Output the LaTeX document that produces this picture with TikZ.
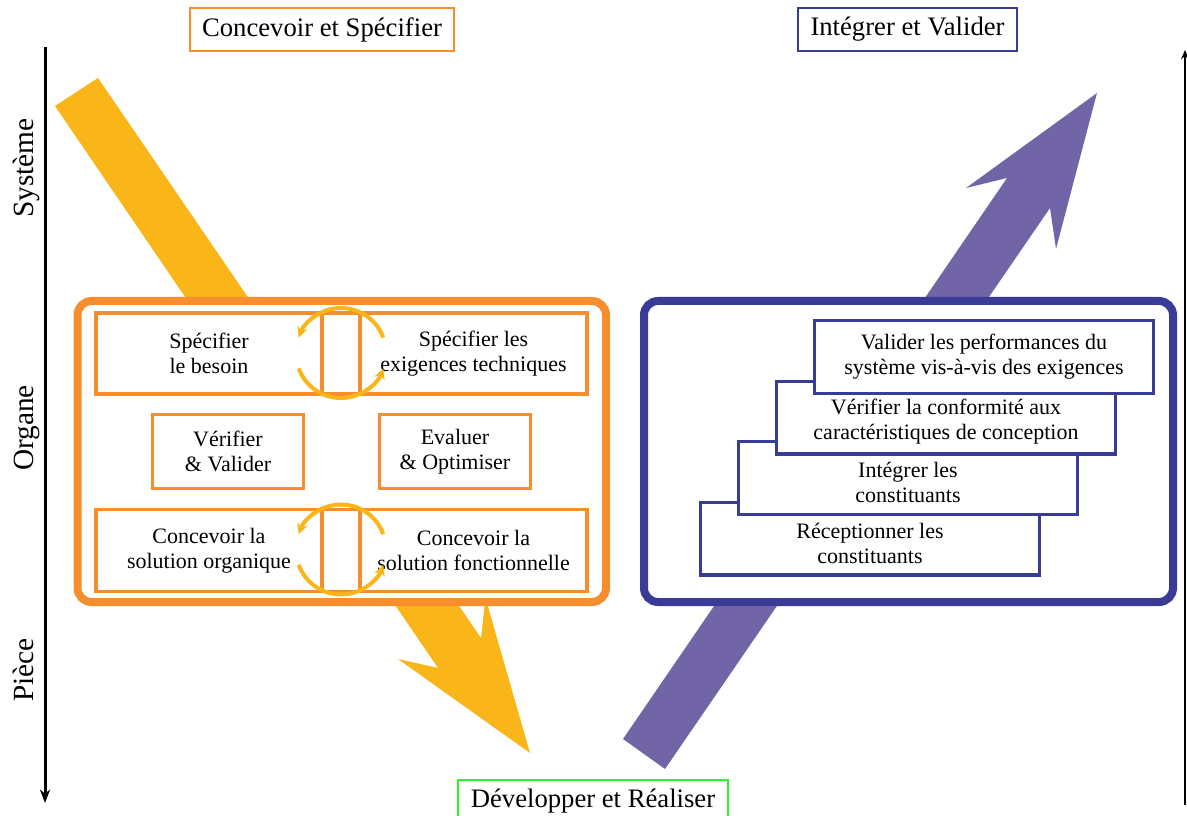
\documentclass[tikz,border=0pt]{standalone}
\usepackage{fontspec}
\setmainfont{Liberation Serif}
\usetikzlibrary{arrows.meta}
\definecolor{corange}{RGB}{247,142,46}
\definecolor{cyellow}{RGB}{250,181,24}
\definecolor{cpurple}{RGB}{114,101,167}
\definecolor{cblue}{RGB}{56,60,150}
\definecolor{cgreen}{RGB}{50,240,50}
\begin{document}
\begin{tikzpicture}[x=0.75pt,y=-0.75pt,
  titlebox/.style={draw, line width=1.5pt, minimum height=32.25pt, inner sep=0pt, outer sep=0pt, font=\fontsize{20}{24}\selectfont},
  axislabel/.style={rotate=90, anchor=base, font=\fontsize{22}{26}\selectfont},
  obox/.style={draw=corange, line width=2.6pt, fill=white, inner sep=0pt, outer sep=0pt, align=center, font=\fontsize{16.5}{18.5}\selectfont},
  bluebox/.style={draw=cblue, line width=2.6pt, fill=white, inner sep=0pt, outer sep=0pt, minimum width=253.9pt, minimum height=54.4pt},
  btext/.style={align=center, inner sep=0pt, font=\fontsize{16.5}{18.75}\selectfont},
  cyc/.style={draw=cyellow, line width=3pt, -{Stealth[length=8pt,width=8pt,inset=2.5pt]}},
  bigframe/.style={line width=6pt, rounded corners=10.5pt, fill=white}
]
\useasboundingbox (0,0) rectangle (1187,816);

% big arrows
\fill[cyellow] (55,106) -- (438,668) -- (398,659) -- (530,753) -- (485.5,598) -- (481,638) -- (98,78) -- cycle;
\fill[cpurple] (623,739) -- (1007,178) -- (966,188) -- (1097,93) -- (1056,249) -- (1050,208) -- (665,769) -- cycle;

% axes
\coordinate (la1) at (45,47);
\coordinate (la2) at (45,803);
\draw[line width=2.25pt, -{Stealth[length=10pt,width=7.5pt,inset=3pt]}] (la1) -- (la2);
\coordinate (ra1) at (1185,805);
\coordinate (ra2) at (1185,50);
\draw[line width=1.5pt, -{Stealth[length=7pt,width=6pt,inset=2.5pt]}] (ra1) -- (ra2);

\node[axislabel] (sys) at (33,168) {Système};
\node[axislabel] (org) at (33,428) {Organe};
\node[axislabel] (pie) at (33,670) {Pièce};

% titles
\node[titlebox, draw=corange, minimum width=198pt] (tcs) at (322,29.5) {Concevoir et Spécifier};
\node[titlebox, draw=cblue, minimum width=164.25pt] (tiv) at (907.5,29.5) {Intégrer et Valider};
\node[titlebox, draw=cgreen, minimum width=202.5pt] (tdr) at (593,801.5) {Développer et Réaliser};

% frames
\draw[corange, bigframe] (77.5,301) rectangle (606,602);
\draw[cblue, bigframe] (644,301) rectangle (1173,602);

% orange boxes
\node[obox, minimum width=169.5pt, minimum height=60.75pt] (sb) at (209,353.5) {Spécifier\\le besoin};
\node[obox, minimum width=170.25pt, minimum height=60.75pt] (se) at (473.5,353.5) {Spécifier les\\exigences techniques};
\draw[corange, line width=2.6pt] (sb.north east) rectangle (se.south west);
\node[obox, minimum width=113.25pt, minimum height=55.5pt] (vv) at (228,451.5) {Vérifier\\\& Valider};
\node[obox, minimum width=113.25pt, minimum height=55.5pt] (eo) at (455,451.5) {Evaluer\\\& Optimiser};
\node[obox, minimum width=169.5pt, minimum height=61.5pt] (co) at (209,550.5) {Concevoir la\\solution organique};
\node[obox, minimum width=170.25pt, minimum height=61.5pt] (cf) at (473.5,550.5) {Concevoir la\\solution fonctionnelle};
\draw[corange, line width=2.6pt] (co.north east) rectangle (cf.south west);

% cycle arrows
\coordinate (c1) at (341,353);
\coordinate (c2) at (341,549.5);
\draw[cyc] ([shift={(20:33.75pt)}]c1) arc[start angle=20, end angle=160, radius=33.75pt];
\draw[cyc] ([shift={(200:33.75pt)}]c1) arc[start angle=200, end angle=340, radius=33.75pt];
\draw[cyc] ([shift={(20:33.75pt)}]c2) arc[start angle=20, end angle=160, radius=33.75pt];
\draw[cyc] ([shift={(200:33.75pt)}]c2) arc[start angle=200, end angle=340, radius=33.75pt];

% blue stacked boxes
\node[bluebox] (b4) at (870,538.5) {};
\node[btext] (t4) at (870,543) {Réceptionner les\\constituants};
\node[bluebox] (b3) at (908,478) {};
\node[btext] (t3) at (908,482) {Intégrer les\\constituants};
\node[bluebox] (b2) at (946,417.5) {};
\node[btext] (t2) at (946,421.5) {Vérifier la conformité aux\\caractéristiques de conception};
\node[bluebox] (b1) at (984,357) {};
\node[btext] (t1) at (984,357) {Valider les performances du\\système vis-à-vis des exigences};
\end{tikzpicture}
\end{document}
